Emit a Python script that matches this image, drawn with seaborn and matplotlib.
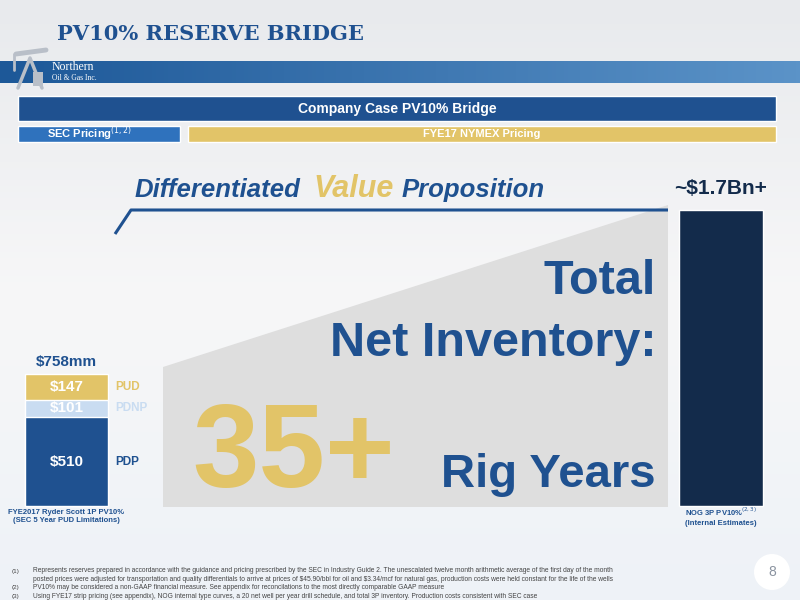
import numpy as np
import pandas as pd
import matplotlib
matplotlib.use("Agg")
import matplotlib.pyplot as plt
from matplotlib.patches import Rectangle, Polygon, Circle
import seaborn as sns

# data ($mm)
cases = ["FYE2017 Ryder Scott 1P PV10%", "NOG 3P PV10%"]
segments = ["PDP", "PDNP", "PUD", "3P"]
seg_case = [cases[0], cases[0], cases[0], cases[1]]
seg_values = [510, 101, 147, 1700]
seg_labels = ["$510", "$101", "$147", ""]
total_label = "$758mm"
right_label = "~$1.7Bn+"

footnotes = [
    ("(1)", "Represents reserves prepared in accordance with the guidance and pricing prescribed by the SEC in Industry Guide 2. The unescalated twelve month arithmetic average of the first day of the month"),
    ("", r"posted prices were adjusted for transportation and quality differentials to arrive at prices of \$45.90/bbl for oil and \$3.34/mcf for natural gas, production costs were held constant for the life of the wells"),
    ("(2)", "PV10% may be considered a non-GAAP financial measure. See appendix for reconcilations to the most directly comparable GAAP measure"),
    ("(3)", "Using FYE17 strip pricing (see appendix), NOG internal type curves, a 20 net well per year drill schedule, and total 3P inventory. Production costs consistent with SEC case"),
]

BLUE = "#1f5190"
NAVY = "#132b4b"
GOLD = "#e2c468"
LBLUE = "#c9dcf1"
GRAY = "#dedede"

sns.set_theme(style="white")
plt.rcParams["font.family"] = ["Liberation Sans", "DejaVu Sans"]

fig = plt.figure(figsize=(8, 6), dpi=100)

# background + decorations in pixel coords
bg = fig.add_axes([0, 0, 1, 1])
bg.set_xlim(0, 800)
bg.set_ylim(600, 0)
bg.axis("off")
grad = np.linspace(0, 1, 100).reshape(-1, 1)
bg.imshow(grad, extent=[0, 800, 600, 0], aspect="auto",
          cmap=matplotlib.colors.LinearSegmentedColormap.from_list("g", ["#e8eaed", "#f7f7f8", "#eef2f7"]),
          zorder=0)

# header band with gradient
band = np.linspace(0, 1, 200).reshape(1, -1)
bg.imshow(band, extent=[0, 800, 83, 61], aspect="auto",
          cmap=matplotlib.colors.LinearSegmentedColormap.from_list("b", ["#1d5898", "#5b93c8"]),
          zorder=1)
bg.text(57, 34, "PV10% RESERVE BRIDGE", fontsize=15.1, fontweight="bold",
        family="DejaVu Serif", color=BLUE, va="center", ha="left", zorder=3)
bg.text(52, 67, "Northern", fontsize=8.5, family="Liberation Serif", color="white", va="center", zorder=3)
bg.text(52, 78, "Oil & Gas Inc.", fontsize=5.5, family="Liberation Serif", color="white", va="center", zorder=3)
# simple pump-jack hint
pump = "#b9bfc8"
bg.plot([18, 30, 42], [88, 58, 88], color=pump, lw=2.5, zorder=2)
bg.plot([16, 46], [54, 50], color=pump, lw=3.5, zorder=2)
bg.plot([14, 14], [54, 70], color=pump, lw=2, zorder=2)
bg.add_patch(Rectangle((33, 72), 10, 14, facecolor=pump, edgecolor="none", zorder=2))

# pricing bands
bg.add_patch(Rectangle((18, 96), 758, 25, facecolor=BLUE, zorder=2))
bg.text(397, 108.5, "Company Case PV10% Bridge", color="white", fontsize=10,
        fontweight="bold", ha="center", va="center", zorder=3)
bg.add_patch(Rectangle((18, 126), 162, 16, facecolor="#2f72bd", zorder=2))
bg.text(90, 134, "SEC Pricing$^{(1,2)}$", color="white", fontsize=8,
        fontweight="bold", ha="center", va="center", zorder=3)
bg.add_patch(Rectangle((188, 126), 588, 16, facecolor=GOLD, zorder=2))
bg.text(482, 134, "FYE17 NYMEX Pricing", color="white", fontsize=8,
        fontweight="bold", ha="center", va="center", zorder=3)

# gray wedge
bg.add_patch(Polygon([[163, 367], [668, 205], [668, 507], [163, 507]], closed=True,
                     facecolor=GRAY, edgecolor="none", zorder=2))
# bracket line
bg.plot([115, 131, 668], [234, 210, 210], color=BLUE, lw=2.2, solid_capstyle="butt", zorder=3)

bg.text(135, 197, "Differentiated", fontsize=18.5, fontweight="bold", style="italic",
        color=BLUE, ha="left", va="baseline", zorder=3)
bg.text(313, 197, "Value", fontsize=22, fontweight="bold", style="italic",
        color=GOLD, ha="left", va="baseline", zorder=3)
bg.text(402, 197, "Proposition", fontsize=18.5, fontweight="bold", style="italic",
        color=BLUE, ha="left", va="baseline", zorder=3)

bg.text(656, 281, "Total", fontsize=35, fontweight="bold", color=BLUE,
        ha="right", va="center", zorder=3)
bg.text(656, 343, "Net Inventory:", fontsize=35, fontweight="bold", color=BLUE,
        ha="right", va="center", zorder=3)
bg.text(192, 457, "35+", fontsize=86, fontweight="bold", color=GOLD,
        ha="left", va="center", zorder=3)
bg.text(656, 475, "Rig Years", fontsize=34, fontweight="bold", color=BLUE,
        ha="right", va="center", zorder=3)

# footnotes
for i, (num, txt) in enumerate(footnotes):
    y = 571 + i * 8.4
    bg.text(12, y, num, fontsize=4.6, color="#444444", va="center")
    bg.text(33, y, txt, fontsize=4.8, color="#444444", va="center")

bg.add_patch(Circle((772, 572), 18, facecolor="white", edgecolor="none", zorder=2))
bg.text(772, 572, "8", fontsize=10, color="#8a93a0", ha="center", va="center", zorder=3)

# bar chart axes: full figure, data scaled so bars land in place
ax = fig.add_axes([0, 0, 1, 1])
ax.patch.set_alpha(0)
px_unit = 654.5
scale = 0.1741

df = pd.DataFrame({"case": seg_case, "seg": segments, "value": seg_values, "label": seg_labels})
df["top"] = df.groupby("case")["value"].cumsum()
df["bottom"] = df["top"] - df["value"]
colors = {"PDP": BLUE, "PDNP": LBLUE, "PUD": GOLD, "3P": NAVY}

for seg in ["PUD", "PDNP", "PDP", "3P"]:
    sub = df[df["seg"] == seg]
    sns.barplot(data=sub, x="case", y="top", order=cases, color=colors[seg],
                width=0.127, saturation=1, ax=ax)
ax.set_xlim(-66.5 / px_unit, (800 - 66.5) / px_unit)
ax.set_ylim(-94 / scale, (600 - 94) / scale)
ax.axis("off")

side_colors = {"PDP": BLUE, "PDNP": LBLUE, "PUD": GOLD}
for _, r in df[df["case"] == cases[0]].iterrows():
    mid = (r["top"] + r["bottom"]) / 2
    ax.text(0, mid, r["label"], color="white", fontsize=11, fontweight="bold",
            ha="center", va="center")
    ax.text(0.075, mid, r["seg"], color=side_colors[r["seg"]], fontsize=8.5,
            fontweight="bold", ha="left", va="center")

left_total = df[df["case"] == cases[0]]["value"].sum()
ax.text(0.0, left_total + 30, total_label, color=BLUE, fontsize=11,
        fontweight="bold", ha="center", va="bottom")
ax.text(1.0, 1700 + 70, right_label, color=NAVY, fontsize=15,
        fontweight="bold", ha="center", va="bottom")

ax.text(0, -60, cases[0] + "\n(SEC 5 Year PUD Limitations)", color=BLUE, fontsize=5.5,
        fontweight="bold", ha="center", va="center", linespacing=1.3)
ax.text(1, -60, cases[1] + "$^{(2,3)}$\n(Internal Estimates)", color=BLUE, fontsize=5.5,
        fontweight="bold", ha="center", va="center", linespacing=1.3)

fig.savefig("out.png", dpi=100)
